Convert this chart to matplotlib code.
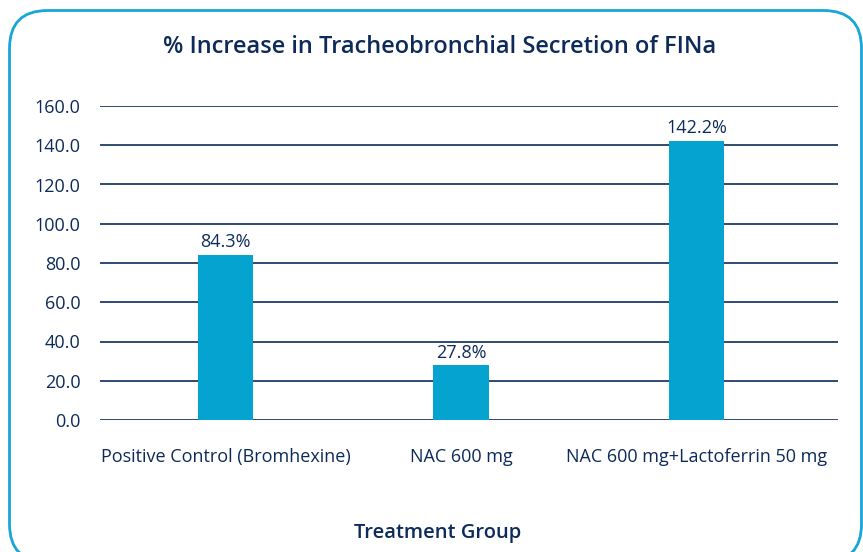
import matplotlib
matplotlib.use("Agg")
import matplotlib.pyplot as plt
from matplotlib.patches import FancyBboxPatch

categories = ["Positive Control (Bromhexine)", "NAC 600 mg", "NAC 600 mg+Lactoferrin 50 mg"]
values = [84.3, 27.8, 142.2]
labels = ["84.3%", "27.8%", "142.2%"]
yticks = [0, 20, 40, 60, 80, 100, 120, 140, 160]

navy = "#0d2b5a"
bar_color = "#04a3d0"
border_color = "#17a6d6"

plt.rcParams['font.family'] = ['Open Sans', 'DejaVu Sans']

W, H = 863, 552
fig = plt.figure(figsize=(W / 100, H / 100), dpi=100)

ax = fig.add_axes([100 / W, 1 - 420 / H, 738 / W, (420 - 106) / H])
x = list(range(len(categories)))
bars = ax.bar(x, values, width=0.234, color=bar_color, zorder=3)
for xi, v, lab in zip(x, values, labels):
    ax.text(xi, v + 2.0, lab, ha="center", va="bottom", fontsize=13, color=navy)

ax.set_ylim(0, 160)
ax.set_xlim(-0.533, 2.601)
ax.set_yticks(yticks)
ax.set_yticklabels([f"{t:.1f}" for t in yticks], fontsize=13, color=navy)
ax.set_xticks(x)
ax.set_xticklabels(categories, fontsize=13, color=navy)
ax.tick_params(axis="y", length=0, pad=14)
ax.tick_params(axis="x", length=0, pad=20)
ax.grid(axis="y", color=navy, linewidth=1.2, zorder=0)
for s in ax.spines.values():
    s.set_visible(False)

fig.text(440 / W, 1 - 47 / H, "% Increase in Tracheobronchial Secretion of FINa",
         ha="center", va="center", fontsize=17, color=navy, fontweight="semibold")
fig.text(438 / W, 1 - 533 / H, "Treatment Group",
         ha="center", va="center", fontsize=14.5, color=navy, fontweight="semibold")

box = FancyBboxPatch((9.5, -10), 852, 542 + 10 - 0.5,
                     boxstyle="round,pad=0,rounding_size=38",
                     transform=None, facecolor="none", edgecolor=border_color,
                     linewidth=2.0, clip_on=False)
fig.patches.append(box)

fig.savefig("out.png", dpi=100)
